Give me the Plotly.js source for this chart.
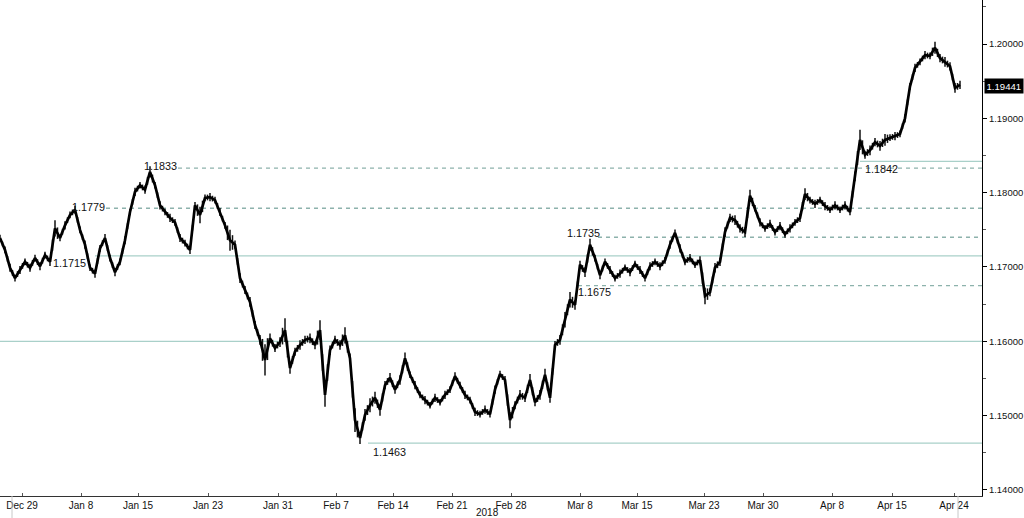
<!DOCTYPE html>
<html>
<head>
<meta charset="utf-8">
<script src="https://cdn.plot.ly/plotly-3.0.1.min.js"></script>
<style>html,body{margin:0;padding:0;background:#fff;}#chart{width:1024px;height:518px;}</style>
</head>
<body>
<div id="chart"></div>
<script>
// price samples (evenly spaced sessions)
const closes = [
1.1739,1.1723,1.1699,1.1685,1.1696,1.1707,1.1699,1.1712,1.1701,1.1716,
1.1707,1.1752,1.1739,1.1756,1.1770,1.1777,1.1750,1.1730,1.1699,1.1691,
1.1725,1.1739,1.1712,1.1693,1.1707,1.1736,1.1774,1.1801,1.1810,1.1804,
1.1828,1.1810,1.1783,1.1774,1.1766,1.1760,1.1739,1.1732,1.1723,1.1783,
1.1770,1.1793,1.1794,1.1790,1.1774,1.1756,1.1736,1.1730,1.1685,1.1669,
1.1653,1.1622,1.1602,1.1575,1.1604,1.1591,1.1599,1.1615,1.1564,1.1586,
1.1595,1.1602,1.1604,1.1595,1.1615,1.1528,1.1588,1.1602,1.1595,1.1608,
1.1577,1.1494,1.1470,1.1501,1.1514,1.1524,1.1508,1.1541,1.1551,1.1535,
1.1548,1.1577,1.1555,1.1541,1.1528,1.1521,1.1514,1.1524,1.1518,1.1528,
1.1535,1.1553,1.1541,1.1528,1.1521,1.1505,1.1502,1.1508,1.1502,1.1535,
1.1556,1.1548,1.1494,1.1514,1.1528,1.1524,1.1548,1.1518,1.1528,1.1555,
1.1524,1.1595,1.1602,1.1629,1.1656,1.1649,1.1703,1.1693,1.1730,1.1712,
1.1689,1.1707,1.1696,1.1685,1.1691,1.1699,1.1693,1.1704,1.1696,1.1685,
1.1701,1.1707,1.1701,1.1709,1.1730,1.1746,1.1725,1.1707,1.1712,1.1703,
1.1709,1.1661,1.1666,1.1699,1.1707,1.1747,1.1766,1.1763,1.1752,1.1747,
1.1796,1.1779,1.1760,1.1752,1.1758,1.1747,1.1755,1.1744,1.1752,1.1760,
1.1766,1.1798,1.1790,1.1785,1.1790,1.1782,1.1777,1.1783,1.1777,1.1783,
1.1774,1.1822,1.1871,1.1851,1.1857,1.1868,1.1863,1.1871,1.1874,1.1876,
1.1879,1.1900,1.1943,1.1968,1.1976,1.1985,1.1984,1.1995,1.1981,1.1976,
1.1970,1.1941,1.1945
];
// intrasession range in pips
const swingPips = [
9,9,11,9,11,9,11,9,11,9,11,
22,
9,11,9,11,9,11,9,11,9,11,9,11,9,11,9,11,9,11,
15,
9,11,9,11,9,11,9,11,9,
22,
9,11,9,11,9,
28,
11,13,11,13,11,13,
42,
13,11,13,
32,15,
11,13,11,13,11,
27,32,
13,11,13,
22,13,32,
16,16,19,16,16,
11,13,11,13,
16,
9,11,9,11,9,11,9,11,9,11,9,11,9,11,9,11,9,11,9,11,
22,
11,13,11,
16,11,13,16,
13,11,13,
21,21,
13,11,13,
16,
9,11,9,11,9,11,9,11,9,11,9,11,9,11,9,11,9,11,9,11,9,11,
22,
11,13,11,13,11,13,11,13,
16,
9,11,9,11,9,11,9,11,9,11,
16,
9,11,9,11,9,11,9,11,9,13,
27,
11,13,11,13,
16,
9,11,9,11,9,11,9,11,9,
16,
11,13,11,
13,11
];
const lastPrice = 1.19441;

const tickLabels = ["Dec 29","Jan 8","Jan 15","Jan 23","Jan 31","Feb 7","Feb 14","Feb 21","Feb 28","Mar 8","Mar 15","Mar 23","Mar 30","Apr 8","Apr 15","Apr 24"];
const tickSession = [4.4,16.2,27.6,41.6,55.6,67.2,78.6,90.4,102.2,116,127.4,140.8,152.6,166.4,178.4,190.8];
const yearLabel = "2018";
const yearSession = 97.4;
const yearBreaks = [2.4, 191.6];

const yTicks = [1.14,1.15,1.16,1.17,1.18,1.19,1.20];

// support/resistance levels
const solidLevels = [1.1842, 1.1715, 1.1600, 1.1463];
const solidStart  = [172, 19, 0, 73.6];
const dashedLevels = [1.1833, 1.1779, 1.1740, 1.1675];
const dashedStart  = [35.6, 21.2, 119.6, 115.6];
const levelLabels = ["1.1833","1.1779","1.1715","1.1735","1.1675","1.1842","1.1463"];
const labelLevel  = [1.1833, 1.1779, 1.1715, 1.1740, 1.1675, 1.1842, 1.1463];
const labelSession = [28.4, 14.0, 10.2, 113.0, 115.2, 172.6, 74.2];
const labelShift = [2, 1, -7, 4, -6, -8, -9];

const XMAX = 196.4;
const xs = closes.map((_, i) => i);
const FONT = 'Liberation Sans, Arial, sans-serif';

// range bars (at each session and halfway between sessions)
const bx = [], by = [];
closes.forEach((c, i) => {
  const h = (swingPips[i] || 9) * 0.0001 / 2;
  bx.push(i, i, null);
  by.push(c - h, c + h, null);
  if (i < closes.length - 1) {
    const m = (c + closes[i + 1]) / 2;
    const hm = Math.max(swingPips[i] || 9, swingPips[i + 1] || 9) * 0.0001 / 2 * 0.7;
    bx.push(i + 0.5, i + 0.5, null);
    by.push(m - hm, m + hm, null);
  }
});

const shapes = [];
solidLevels.forEach((v, k) => shapes.push({type:'line', layer:'below', xref:'x', yref:'y', x0:solidStart[k], x1:XMAX, y0:v, y1:v, line:{color:'#a9d0c9', width:1.3}}));
dashedLevels.forEach((v, k) => shapes.push({type:'line', layer:'below', xref:'x', yref:'y', x0:dashedStart[k], x1:XMAX, y0:v, y1:v, line:{color:'#8db2ac', width:1.3, dash:'4px,4px'}}));
yearBreaks.forEach(x => shapes.push({type:'line', xref:'x', yref:'paper', x0:x, x1:x, y0:0, y1:-0.045, line:{color:'#c8c8c8', width:1}}));

const annotations = levelLabels.map((t, k) => ({
  text: t, x: labelSession[k], y: labelLevel[k], xref:'x', yref:'y',
  xanchor:'left', yanchor:'middle', yshift: labelShift[k], showarrow:false,
  font:{family:FONT, size:10.8, color:'#111'}
}));
annotations.push({
  text: lastPrice.toFixed(5), x:1, xref:'paper', y:lastPrice, yref:'y',
  xanchor:'left', yanchor:'middle', xshift:2, showarrow:false,
  bgcolor:'#000', borderpad:1.5,
  font:{family:FONT, size:9.6, color:'#fff'}
});
annotations.push({
  text: yearLabel, x: yearSession, xref:'x', y:0, yref:'paper', yshift:-9,
  xanchor:'center', yanchor:'top', showarrow:false,
  font:{family:FONT, size:10, color:'#111'}
});

const data = [
  {x: bx, y: by, type:'scatter', mode:'lines', connectgaps:false, line:{color:'#111', width:1.5}, hoverinfo:'skip'},
  {x: xs, y: closes, type:'scatter', mode:'lines', line:{color:'#000', width:2.7}, hoverinfo:'skip'}
];

const layout = {
  width:1024, height:518,
  margin:{l:0, r:42, t:0, b:22},
  paper_bgcolor:'#fff', plot_bgcolor:'#fff',
  showlegend:false, hovermode:false,
  xaxis:{
    range:[0, XMAX], showgrid:false, zeroline:false,
    showline:true, linecolor:'#333', linewidth:1,
    tickmode:'array', tickvals:tickSession, ticktext:tickLabels,
    ticks:'inside', ticklen:3, tickcolor:'#555',
    tickfont:{family:FONT, size:10, color:'#111'}
  },
  yaxis:{
    side:'right', range:[1.13919, 1.20592], showgrid:false, zeroline:false,
    showline:true, linecolor:'#000', linewidth:1,
    tickmode:'array', tickvals:yTicks, tickformat:'.5f',
    ticks:'outside', ticklen:4, tickcolor:'#000',
    minor:{dtick:0.005, tick0:1.14, ticks:'outside', ticklen:3, tickcolor:'#555', showgrid:false},
    tickfont:{family:FONT, size:9.5, color:'#111'}
  },
  shapes: shapes,
  annotations: annotations
};

Plotly.newPlot('chart', data, layout, {staticPlot:true, displayModeBar:false});
</script>
</body>
</html>
